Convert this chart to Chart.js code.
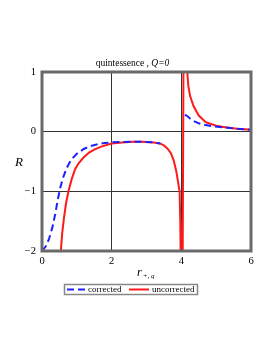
<!DOCTYPE html>
<html>
<head>
<meta charset="utf-8">
<script src="https://cdn.jsdelivr.net/npm/chart.js@4"></script>
<style>
    html, body { margin: 0; padding: 0; background: #fff; }
    #wrap { width: 273px; height: 353px; }
</style>
</head>
<body>
<div id="wrap"><canvas id="rChart"></canvas></div>
<script>
// curva R(r) - quintessence, Q=0
const titulo = 'quintessence , ';
const tituloItalico = 'Q=0';
const xTicks = [0, 2, 4, 6];
const yTicks = [-2, -1, 0, 1];
const nomes = ['corrected', 'uncorrected'];

// corrected (azul tracejado), null = quebra
const correctedX = [0, 0.1, 0.2, 0.3, 0.38, 0.45, 0.52, 0.6, 0.7, 0.8, 0.9, 1.0, 1.2, 1.4, 1.6, 1.8, 2.0, 2.3, 2.6, 2.9, 3.2, 3.4,
    null, 4.1, 4.15, 4.25, 4.35, 4.5, 4.7, 4.9, 5.1, 5.4, 5.7, 6.0];
const correctedY = [-2, -1.93, -1.8, -1.6, -1.38, -1.15, -0.95, -0.78, -0.62, -0.51, -0.43, -0.37, -0.29, -0.24, -0.21, -0.19, -0.18, -0.172, -0.17, -0.17, -0.18, -0.2,
    null, 0.28, 0.27, 0.22, 0.18, 0.14, 0.11, 0.09, 0.08, 0.06, 0.045, 0.03];

// uncorrected (vermelho)
const uncorrectedX = [0.54, 0.58, 0.63, 0.69, 0.76, 0.85, 0.95, 1.05, 1.2, 1.35, 1.5, 1.7, 2.0, 2.3, 2.6, 2.9, 3.2, 3.4, 3.5, 3.6, 3.7, 3.78, 3.85, 3.9, 3.95, 3.97, 3.98,
    null, 4.04, 4.06,
    null, 4.17, 4.2, 4.25, 4.35, 4.5, 4.7, 5.0, 5.3, 5.6, 6.0];
const uncorrectedY = [-2, -1.7, -1.45, -1.2, -1.0, -0.8, -0.63, -0.53, -0.43, -0.35, -0.3, -0.25, -0.2, -0.18, -0.17, -0.17, -0.18, -0.2, -0.23, -0.28, -0.36, -0.48, -0.65, -0.82, -1.0, -1.5, -2,
    null, -2, 1,
    null, 1, 0.77, 0.6, 0.43, 0.27, 0.16, 0.1, 0.07, 0.05, 0.03];

const pontos = (xs, ys) => xs.map((x, i) => x === null ? { x: null, y: null } : { x: x, y: ys[i] });

const fonte = "'Liberation Serif', 'DejaVu Serif', serif";
const menos = v => (v < 0 ? '\u2212' + Math.abs(v) : String(v));

const extras = {
    id: 'extras',
    afterDraw(chart) {
        const ctx = chart.ctx;
        const a = chart.chartArea;
        ctx.save();
        // moldura
        ctx.strokeStyle = '#6a6a6a';
        ctx.lineWidth = 3;
        ctx.strokeRect(a.left, a.top, a.right - a.left, a.bottom - a.top);

        // titulo
        ctx.fillStyle = '#000';
        ctx.textBaseline = 'middle';
        ctx.font = '9.5px ' + fonte;
        const w1 = ctx.measureText(titulo).width;
        ctx.font = 'italic 9.5px ' + fonte;
        const w2 = ctx.measureText(tituloItalico).width;
        let tx = 132.5 - (w1 + w2) / 2;
        ctx.textAlign = 'left';
        ctx.font = '9.5px ' + fonte;
        ctx.fillText(titulo, tx, 63);
        ctx.font = 'italic 9.5px ' + fonte;
        ctx.fillText(tituloItalico, tx + w1, 63);

        // eixo y
        ctx.font = 'italic 13px ' + fonte;
        ctx.textAlign = 'center';
        ctx.fillText('R', 19, 163);

        // eixo x: r com indice +, q
        ctx.font = 'italic 12px ' + fonte;
        ctx.textAlign = 'left';
        const rw = ctx.measureText('r').width;
        ctx.fillText('r', 137, 273);
        ctx.font = 'italic 7px ' + fonte;
        ctx.fillText('+, q', 137 + rw + 1, 276);

        // legenda
        ctx.strokeStyle = '#888';
        ctx.lineWidth = 1.5;
        ctx.strokeRect(64.5, 284.5, 133, 10);
        const ds = chart.data.datasets;
        const amostras = [[67, 86, 88], [129, 149, 152]];
        ds.forEach((d, i) => {
            const [x0, x1, xt] = amostras[i];
            ctx.strokeStyle = d.borderColor;
            ctx.lineWidth = 2;
            ctx.setLineDash(d.borderDash || []);
            ctx.beginPath();
            ctx.moveTo(x0, 289.5);
            ctx.lineTo(x1, 289.5);
            ctx.stroke();
            ctx.setLineDash([]);
            ctx.fillStyle = '#000';
            ctx.font = '9px ' + fonte;
            ctx.fillText(d.label, xt, 290);
        });
        ctx.restore();
    }
};

new Chart(document.getElementById('rChart'), {
    type: 'line',
    data: {
        datasets: [{
            label: nomes[0],
            data: pontos(correctedX, correctedY),
            borderColor: '#1f1fff',
            borderWidth: 2,
            borderDash: [7, 4],
            pointRadius: 0,
            fill: false,
            spanGaps: false,
            tension: 0
        }, {
            label: nomes[1],
            data: pontos(uncorrectedX, uncorrectedY),
            borderColor: '#ff1a1a',
            borderWidth: 2,
            pointRadius: 0,
            fill: false,
            spanGaps: false,
            tension: 0
        }]
    },
    options: {
        responsive: true,
        maintainAspectRatio: false,
        animation: false,
        layout: {
            padding: { top: 72, right: 22, bottom: 82, left: 0 }
        },
        plugins: {
            legend: { display: false },
            tooltip: { enabled: false }
        },
        scales: {
            x: {
                type: 'linear',
                min: 0,
                max: 6,
                afterBuildTicks: s => { s.ticks = xTicks.map(v => ({ value: v })); },
                afterFit: s => { s.height = 20; },
                ticks: {
                    color: '#000',
                    padding: 4,
                    maxRotation: 0,
                    callback: v => menos(v),
                    font: { family: fonte, size: 10.5 }
                },
                grid: { color: '#333', lineWidth: 1, drawTicks: false },
                border: { display: false }
            },
            y: {
                type: 'linear',
                min: -2,
                max: 1,
                afterBuildTicks: s => { s.ticks = yTicks.map(v => ({ value: v })); },
                afterFit: s => { s.width = 42; },
                ticks: {
                    color: '#000',
                    padding: 6,
                    callback: v => menos(v),
                    font: { family: fonte, size: 10.5 }
                },
                grid: { color: '#333', lineWidth: 1, drawTicks: false },
                border: { display: false }
            }
        }
    },
    plugins: [extras]
});
</script>
</body>
</html>
